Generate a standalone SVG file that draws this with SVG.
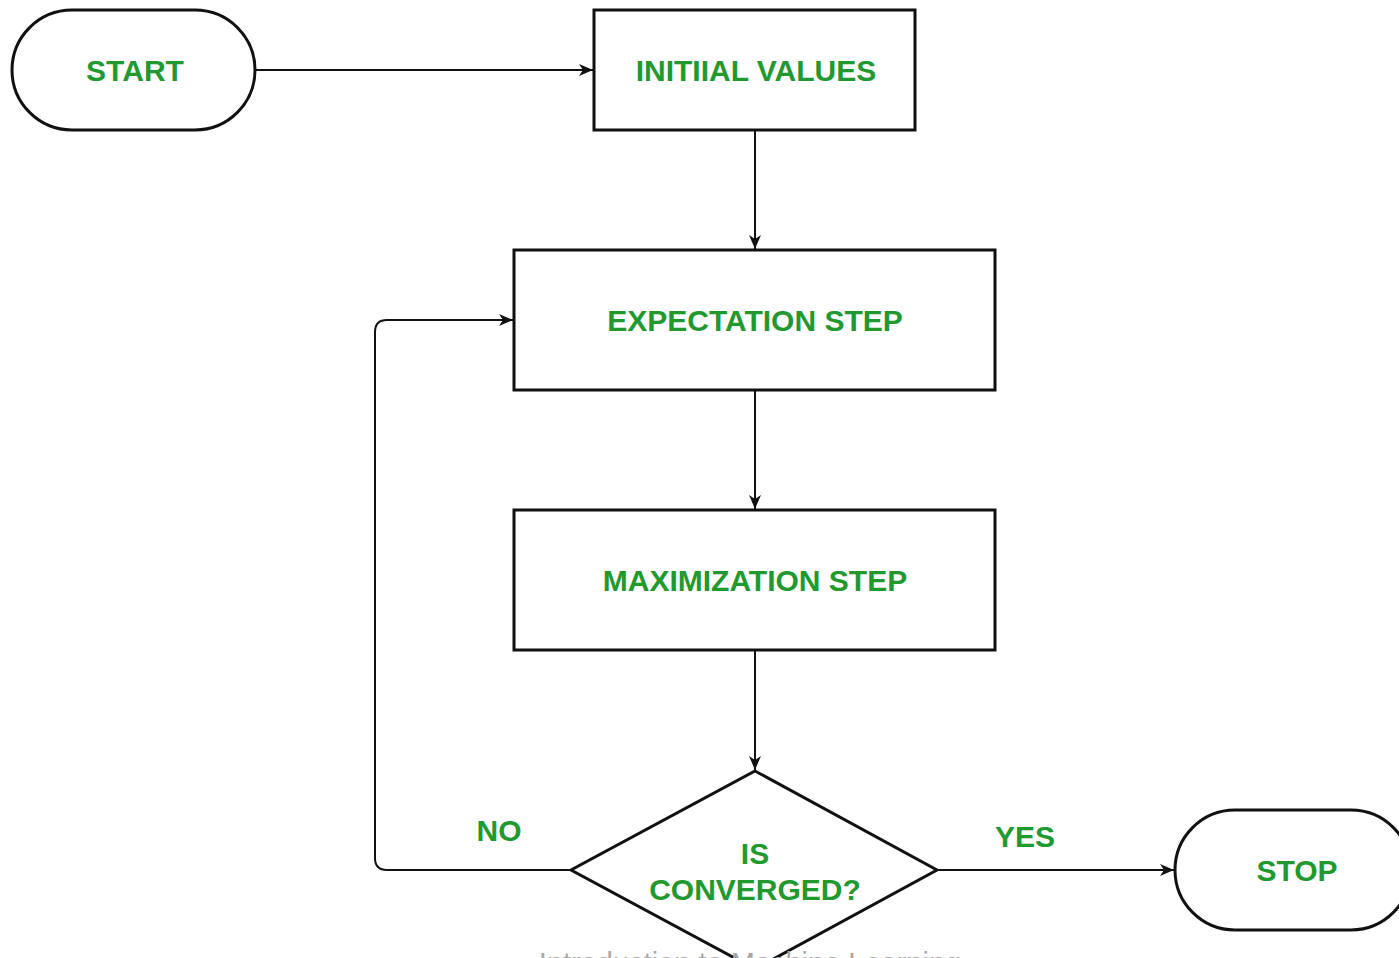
<svg xmlns="http://www.w3.org/2000/svg" width="1399" height="958" viewBox="0 0 1399 958">
<style>
.shape{fill:#ffffff;stroke:#111111;stroke-width:3}
.conn{fill:none;stroke:#111111;stroke-width:2}
.lbl{font-family:"Liberation Sans",Arial,sans-serif;font-weight:bold;font-size:30px;fill:#22992f;text-anchor:middle}
.wm{font-family:"Liberation Sans",Arial,sans-serif;font-size:29px;fill:#a8a8a8;text-anchor:middle}
</style>
<defs>
<marker id="arr" viewBox="0 0 14 12" refX="14" refY="6" markerWidth="14" markerHeight="12" markerUnits="userSpaceOnUse" orient="auto">
<path d="M0,0 L14,6 L0,12 L4,6 Z" fill="#111111"/>
</marker>
</defs>
<rect width="1399" height="958" fill="#ffffff"/>
<g id="connectors">
<path class="conn" d="M255,70 L593,70" marker-end="url(#arr)"/>
<path class="conn" d="M755,130 L755,249" marker-end="url(#arr)"/>
<path class="conn" d="M755,390 L755,509" marker-end="url(#arr)"/>
<path class="conn" d="M755,650 L755,770" marker-end="url(#arr)"/>
<path class="conn" d="M571,870 L387,870 Q375,870 375,858 L375,332 Q375,320 387,320 L513,320" marker-end="url(#arr)"/>
<path class="conn" d="M937,870 L1174,870" marker-end="url(#arr)"/>
</g>
<g id="start">
<rect class="shape" x="12" y="10" width="243" height="120" rx="60" ry="60"/>
<text class="lbl" x="135" y="81">START</text>
</g>
<g id="initial-values">
<rect class="shape" x="594" y="10" width="321" height="120"/>
<text class="lbl" x="756" y="81">INITIIAL VALUES</text>
</g>
<g id="expectation-step">
<rect class="shape" x="514" y="250" width="481" height="140"/>
<text class="lbl" x="755" y="331">EXPECTATION STEP</text>
</g>
<g id="maximization-step">
<rect class="shape" x="514" y="510" width="481" height="140"/>
<text class="lbl" x="755" y="591">MAXIMIZATION STEP</text>
</g>
<g id="is-converged">
<polygon class="shape" points="755,771 937,870 755,969 571,870"/>
<text class="lbl" x="755" y="864">IS</text>
<text class="lbl" x="755" y="900">CONVERGED?</text>
</g>
<g id="stop">
<rect class="shape" x="1175" y="810" width="236" height="120" rx="60" ry="60"/>
<text class="lbl" x="1297" y="881">STOP</text>
</g>
<g id="edge-labels">
<text class="lbl" x="499" y="841">NO</text>
<text class="lbl" x="1025" y="847">YES</text>
</g>
<text class="wm" x="750" y="973">Introduction to Machine Learning</text>
</svg>
